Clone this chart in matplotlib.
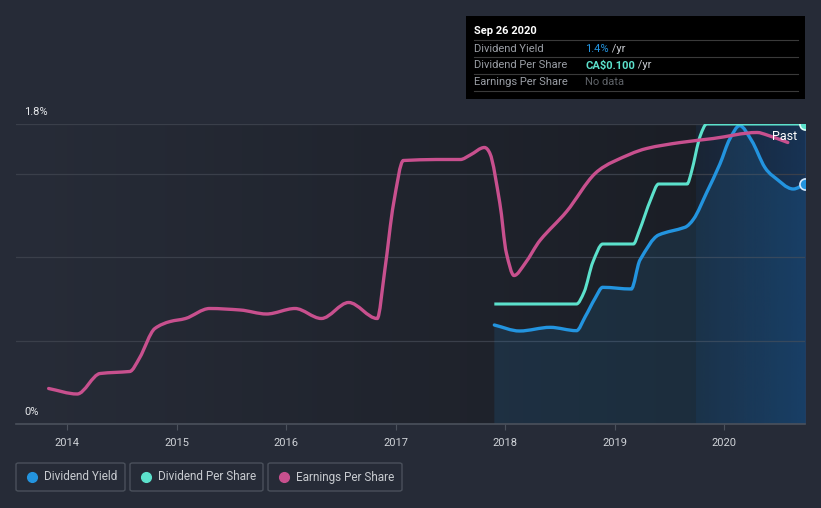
import matplotlib
matplotlib.use("Agg")
import matplotlib.pyplot as plt
from matplotlib.patches import Rectangle, FancyBboxPatch, PathPatch
from matplotlib.path import Path
from matplotlib.lines import Line2D
from matplotlib.colors import to_rgb
import numpy as np

plt.rcParams['font.family'] = ['Roboto', 'DejaVu Sans']

# dividend yield (%)
yield_years = [2017.90, 2018.13, 2018.41, 2018.65, 2018.73, 2018.82, 2018.89, 2019.15, 2019.23,
               2019.40, 2019.64, 2019.72, 2019.84, 2019.96, 2020.05, 2020.14, 2020.25, 2020.37,
               2020.44, 2020.63, 2020.737]
yield_pct = [0.594, 0.558, 0.580, 0.560, 0.644, 0.754, 0.820, 0.810, 0.984,
             1.134, 1.180, 1.230, 1.390, 1.560, 1.710, 1.790, 1.700, 1.540,
             1.490, 1.410, 1.440]

# dividend per share (CA$)
dps_years = [2017.90, 2018.65, 2018.72, 2018.80, 2018.89, 2019.17, 2019.22, 2019.33, 2019.40,
             2019.66, 2019.70, 2019.78, 2019.84, 2020.737]
dps = [0.040, 0.040, 0.044, 0.054, 0.060, 0.060, 0.064, 0.075, 0.080,
       0.080, 0.084, 0.096, 0.100, 0.100]

# earnings per share (CA$)
eps_years = [2013.83, 2014.09, 2014.30, 2014.57, 2014.66, 2014.80, 2014.94, 2015.08, 2015.30,
             2015.58, 2015.82, 2016.08, 2016.32, 2016.57, 2016.83, 2016.90, 2016.98, 2017.07,
             2017.37, 2017.59, 2017.68, 2017.81, 2017.86, 2017.95, 2018.01, 2018.08, 2018.18,
             2018.32, 2018.56, 2018.82, 2018.99, 2019.29, 2019.60, 2019.90, 2020.30, 2020.39,
             2020.58]
eps = [0.071, 0.060, 0.101, 0.105, 0.132, 0.191, 0.205, 0.211, 0.231,
       0.228, 0.220, 0.231, 0.211, 0.243, 0.211, 0.308, 0.441, 0.527,
       0.529, 0.529, 0.538, 0.553, 0.541, 0.442, 0.342, 0.297, 0.321,
       0.368, 0.425, 0.501, 0.525, 0.551, 0.563, 0.571, 0.583, 0.578,
       0.563]

year_ticks = [2014, 2015, 2016, 2017, 2018, 2019, 2020]
past_start = 2019.74

BG = '#262b37'
BLUE = '#2394df'
TEAL = '#5ce1cc'
PINK = '#c8508e'

W, H = 821, 508
fig = plt.figure(figsize=(W / 100, H / 100), dpi=100, facecolor=BG)


def fx(x):
    return x / W


def fy(y):
    return 1 - y / H


def monotone_path(xs, ys, close_to=None):
    # cubic bezier segments with monotone (Fritsch-Carlson) tangents, like d3 curveMonotoneX
    x = np.asarray(xs, float)
    y = np.asarray(ys, float)
    h = np.diff(x)
    d = np.diff(y) / h
    m = np.zeros_like(y)
    m[0], m[-1] = d[0], d[-1]
    for i in range(1, len(y) - 1):
        if d[i - 1] * d[i] <= 0:
            m[i] = 0
        else:
            m[i] = (h[i - 1] + h[i]) / (h[i - 1] / d[i - 1] + h[i] / d[i])
    verts = [(x[0], y[0])]
    codes = [Path.MOVETO]
    for i in range(len(h)):
        verts += [(x[i] + h[i] / 3, y[i] + m[i] * h[i] / 3),
                  (x[i + 1] - h[i] / 3, y[i + 1] - m[i + 1] * h[i] / 3),
                  (x[i + 1], y[i + 1])]
        codes += [Path.CURVE4] * 3
    if close_to is not None:
        verts += [(x[-1], close_to), (x[0], close_to), (x[0], y[0])]
        codes += [Path.LINETO, Path.LINETO, Path.CLOSEPOLY]
    return Path(verts, codes)


x0, x1 = 2013.532, 2020.737
ax = fig.add_axes([fx(16), fy(424), fx(805) - fx(16), (424 - 124) / H])
ax.set_xlim(x0, x1)
ax.set_ylim(0, 1.8)
ax.set_facecolor(BG)

# background gradient, lighter left to darker right
c0 = np.array(to_rgb('#272c38'))
c1 = np.array(to_rgb('#191c23'))
t = np.linspace(0, 1, 256)
grad = (c0[None, :] * (1 - t[:, None]) + c1[None, :] * t[:, None])[None, :, :]
ax.imshow(grad, extent=[x0, x1, 0, 1.8], aspect='auto', zorder=-10, interpolation='bicubic')

# past region highlight
tp = np.linspace(0, 1, 128)
past = np.zeros((1, 128, 4))
past[0, :, :3] = to_rgb('#1565c0')
past[0, :, 3] = 0.10 + 0.22 * tp
ax.imshow(past, extent=[past_start, x1, 0, 1.8], aspect='auto', zorder=-9, interpolation='bicubic')

for g in [0.5, 1.0, 1.5, 1.8]:
    ax.axhline(g, color='#3a3f4a', lw=0.9, zorder=-5)

ax.add_patch(PathPatch(monotone_path(yield_years, yield_pct, close_to=0), facecolor=BLUE,
                       alpha=0.13, lw=0, zorder=1))
ax.add_patch(PathPatch(monotone_path(yield_years, yield_pct), facecolor='none', edgecolor=BLUE,
                       lw=2.4, zorder=5, capstyle='round'))
ax.plot([yield_years[-1]], [yield_pct[-1]], 'o', ms=8, mfc=BLUE, mec='#d6eaff', mew=1.2, zorder=8)

ax2 = ax.twinx()
ax2.set_ylim(0, 0.1)
ax2.add_patch(PathPatch(monotone_path(dps_years, dps), facecolor='none', edgecolor=TEAL,
                        lw=2.2, zorder=4))
ax2.plot([dps_years[-1]], [dps[-1]], 'o', ms=8, mfc=TEAL, mec='#e0fff8', mew=1.2, zorder=8)
ax2.axis('off')

ax3 = ax.twinx()
ax3.set_ylim(0, 0.6)
ax3.add_patch(PathPatch(monotone_path(eps_years, eps), facecolor='none', edgecolor=PINK,
                        lw=2.4, zorder=3, capstyle='round'))
ax3.axis('off')

ax.set_xticks(year_ticks)
ax.set_xticklabels([str(y) for y in year_ticks], color='#d0d3d8', fontsize=8)
ax.tick_params(axis='x', length=4, color='#4b515c', pad=6)
ax.set_yticks([])
for s in ['top', 'left', 'right']:
    ax.spines[s].set_visible(False)
ax.spines['bottom'].set_color('#4b515c')
ax.spines['bottom'].set_linewidth(1.2)

fig.text(fx(24), fy(112), '1.8%', color='#e6e8eb', fontsize=8, va='center')
fig.text(fx(24), fy(412), '0%', color='#e6e8eb', fontsize=8, va='center')
fig.text(fx(785), fy(136), 'Past', color='#ffffff', fontsize=9, ha='center', va='center')

# tooltip
fig.patches.append(Rectangle((fx(466), fy(99)), fx(805) - fx(466), (99 - 16) / H,
                             transform=fig.transFigure, facecolor='#000000', edgecolor='none'))
fig.text(fx(474), fy(31), 'Sep 26 2020', color='#ffffff', fontsize=8, fontweight='bold', va='center')
for ly in [40, 57.3, 74, 91]:
    fig.add_artist(Line2D([fx(474), fx(798)], [fy(ly), fy(ly)], color='#3a3a3a', lw=0.8,
                          transform=fig.transFigure))
rows = [('Dividend Yield', '1.4%', BLUE, ' /yr'),
        ('Dividend Per Share', 'CA$0.100', TEAL, ' /yr'),
        ('Earnings Per Share', 'No data', '#5f6368', '')]
for i, (lab, val, col, suf) in enumerate(rows):
    yy = fy(48.5 + i * 17)
    fig.text(fx(474), yy, lab, color='#9a9ea5', fontsize=8, va='center')
    tv = fig.text(fx(585), yy, val, color=col, fontsize=8, va='center',
                  fontweight='bold' if i == 1 else 'normal')
    if suf:
        fig.canvas.draw()
        bb = tv.get_window_extent()
        fig.text(bb.x1 / W, yy, suf, color='#c8cbd0', fontsize=8, va='center')

# legend
legend = [('Dividend Yield', BLUE, 16, 125), ('Dividend Per Share', TEAL, 130, 263),
          ('Earnings Per Share', PINK, 268, 402)]
for lab, col, lx0, lx1 in legend:
    fig.patches.append(FancyBboxPatch((fx(lx0), fy(491)), fx(lx1) - fx(lx0), (491 - 463) / H,
                                      boxstyle='round,pad=0,rounding_size=0.003',
                                      transform=fig.transFigure, facecolor='none',
                                      edgecolor='#4a505b', lw=1))
    fig.add_artist(Line2D([fx(lx0 + 16)], [fy(477)], marker='o', ms=7, color=col, lw=0,
                          transform=fig.transFigure))
    fig.text(fx(lx0 + 28), fy(477), lab, color='#c8cbd0', fontsize=8.5, va='center')

fig.savefig('out.png', dpi=100, facecolor=BG)
